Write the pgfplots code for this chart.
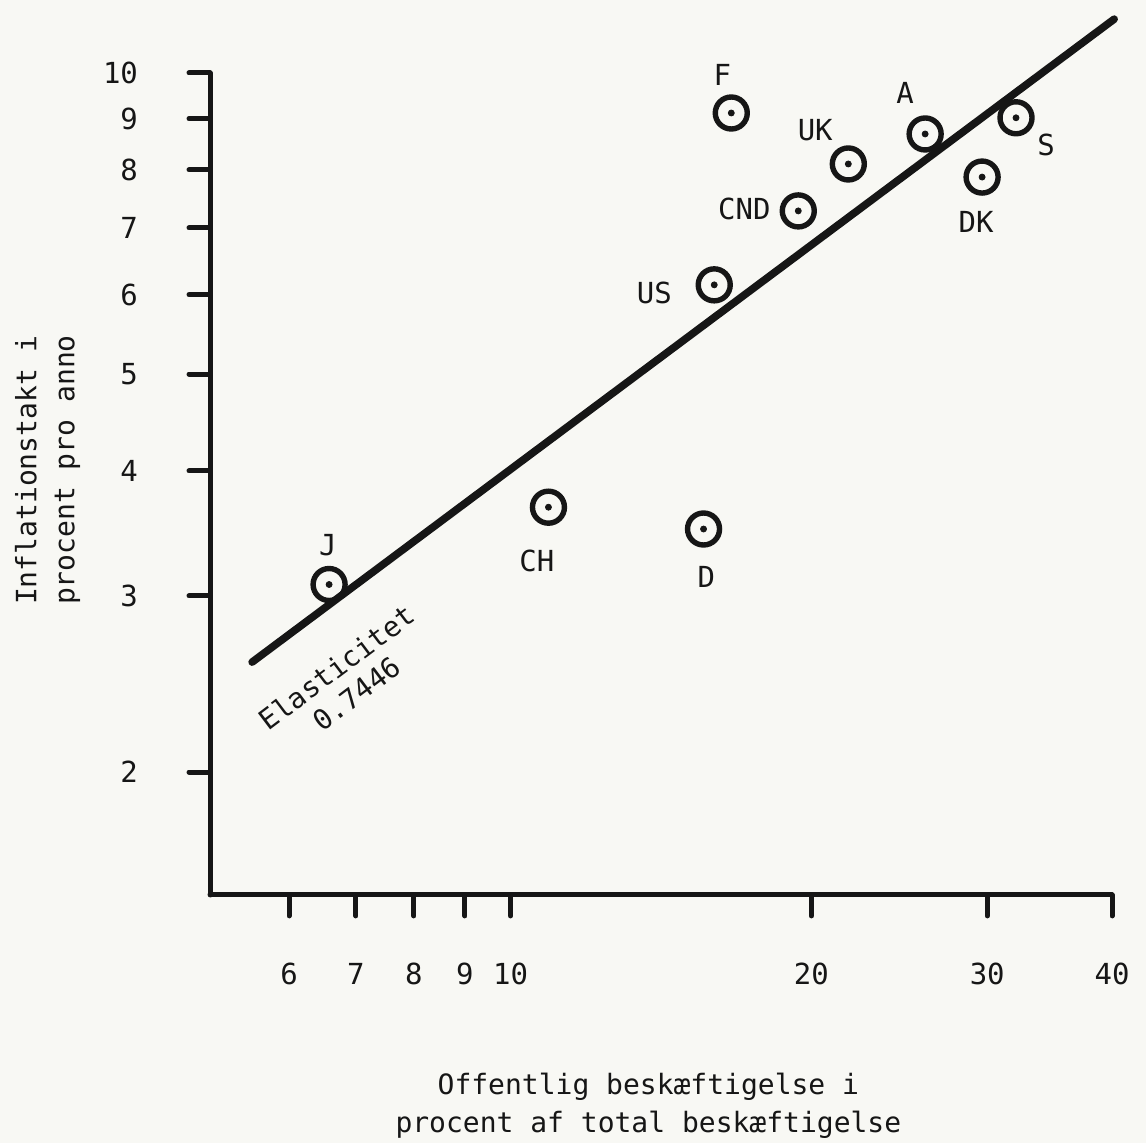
\documentclass[border=0pt]{standalone}
\usepackage{pgfplots}
\pgfplotsset{compat=1.18}
\usepackage{pgfplotstable}
\usepackage{fontspec}
\setmainfont{DejaVu Sans Mono}
\definecolor{paper}{RGB}{248,248,244}
\definecolor{ink}{RGB}{22,22,22}

% country, public employment share (%), inflation (% p.a.)
\pgfplotstableread{
x     y     name
6.58  3.08  J
10.91 3.68  CH
15.60 3.50  D
15.99 6.14  US
16.63 9.12  F
19.41 7.28  CND
21.78 8.11  UK
26.00 8.69  A
29.65 7.87  DK
32.06 9.02  S
}\countries

\begin{document}
\begin{tikzpicture}
\path[use as bounding box, fill=paper] (0,0) rectangle (573pt,571.5pt);
\begin{axis}[
  at={(105pt,124pt)}, anchor=south west,
  scale only axis, width=451pt, height=411pt,
  xmode=log, ymode=log,
  xmin=5, xmax=40, ymin=1.507, ymax=10,
  axis lines*=left,
  axis line style={ink, line width=2.5pt, line cap=round},
  xtick={6,7,8,9,10,20,30,40},
  xticklabels={6,7,8,9,10,20,30,40},
  ytick={2,3,4,5,6,7,8,9,10},
  yticklabels={2,3,4,5,6,7,8,9,10},
  xminorticks=false, yminorticks=false,
  tick align=outside, major tick length=10.5pt,
  tick style={ink, line width=2.5pt, line cap=round},
  /pgf/number format/assume math mode=true,
  ticklabel style={ink, font=\fontsize{14.5}{15}\selectfont},
  xticklabel style={yshift=-20pt},
  yticklabel style={xshift=-22pt},
  label style={ink, font=\fontsize{14}{19}\selectfont, align=center},
  xlabel={Offentlig beskæftigelse i\\procent af total beskæftigelse},
  ylabel={Inflationstakt i\\procent pro anno},
  xlabel style={at={(axis description cs:0.486,-0.257)}, anchor=center},
  ylabel style={at={(axis description cs:-0.18,0.517)}, anchor=center},
  clip=false,
]
% regression line, elasticity 0.7446
\addplot[ink, line width=3.8pt, line cap=round] coordinates {(5.51,2.576) (40.2,11.32)};
\addplot[only marks, mark=o, mark size=8pt, mark options={ink, line width=2.7pt}]
  table[x=x, y=y] {\countries};
\addplot[only marks, mark=*, mark size=1.5pt, mark options={ink}]
  table[x=x, y=y] {\countries};

\begin{scope}[every node/.style={ink, font=\fontsize{14.5}{15}\selectfont}]
\node at (axis cs:16.29,9.954) {F};
\node at (axis cs:20.18,8.770) {UK};
\node at (axis cs:17.14,7.311) {CND};
\node at (axis cs:13.93,6.026) {US};
\node at (axis cs:24.83,9.550) {A};
\node at (axis cs:34.36,8.472) {S};
\node at (axis cs:29.24,7.096) {DK};
\node at (axis cs:10.62,3.251) {CH};
\node at (axis cs:15.70,3.133) {D};
\node at (axis cs:6.561,3.373) {J};
\node[rotate=37, align=center, font=\fontsize{14}{16.5}\selectfont]
  at (axis cs:6.85,2.47) {Elasticitet\\0.7446};
\end{scope}
\end{axis}
\end{tikzpicture}
\end{document}
